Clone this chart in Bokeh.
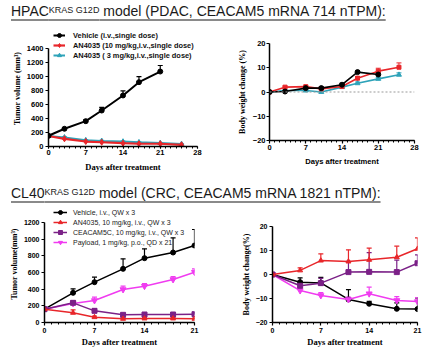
from bokeh.plotting import figure
from bokeh.models import (Range1d, FixedTicker, Legend, LegendItem, ColumnDataSource,
                          Whisker, TeeHead, Span, Div)
from bokeh.layouts import column, row
from bokeh.embed import file_html
from bokeh.resources import INLINE

# ---------------- data ----------------
# HPAC tumor volume
hpac_days_veh = [0, 3, 7, 10, 14, 17, 21]
hpac_days_trt = [0, 3, 7, 10, 14, 17, 21, 25]
hpac_tv_veh = [153, 253, 362, 514, 729, 919, 1071]
hpac_tv_veh_err = [10, 15, 20, 45, 65, 80, 86]
hpac_tv_an10 = [150, 110, 71, 61, 47, 39, 39, 24]
hpac_tv_an10_err = [10, 10, 8, 8, 6, 6, 6, 5]
hpac_tv_an3 = [150, 130, 90, 80, 70, 60, 50, 35]
hpac_tv_an3_err = [10, 10, 8, 8, 6, 6, 6, 5]
# HPAC body weight
hpac_bw_veh = [0, 0.2, 1.6, 1.6, 3.0, 8.2, 7.2]
hpac_bw_veh_err = [0.3, 0.4, 0.5, 0.5, 0.6, 0.6, 1.0]
hpac_bw_an10 = [0, 2.0, 2.2, 1.3, 2.3, 5.7, 8.6, 10.2]
hpac_bw_an10_err = [0.3, 0.4, 0.5, 0.5, 0.5, 0.7, 1.2, 1.8]
hpac_bw_an3 = [0, 0.6, 0.6, 0.0, 2.0, 3.6, 5.4, 7.1]
hpac_bw_an3_err = [0.3, 0.3, 0.3, 0.3, 0.4, 0.5, 0.6, 0.8]
hpac_labels = ["Vehicle (i.v.,single dose)",
               "AN4035 (10 mg/kg,i.v.,single dose)",
               "AN4035 ( 3 mg/kg,i.v.,single dose)"]

# CL40 tumor volume
cl40_days = [0, 4, 7, 11, 14, 18, 21]
cl40_tv_veh = [160, 356, 484, 644, 772, 840, 924]
cl40_tv_veh_err = [10, 48, 60, 120, 112, 176, 192]
cl40_tv_an = [160, 116, 64, 44, 48, 48, 44]
cl40_tv_an_err = [10, 36, 12, 10, 10, 10, 10]
cl40_tv_cea = [160, 236, 140, 92, 96, 96, 100]
cl40_tv_cea_err = [10, 25, 25, 15, 15, 15, 20]
cl40_tv_pay = [160, 228, 264, 396, 436, 516, 604]
cl40_tv_pay_err = [10, 20, 40, 40, 30, 35, 40]
# CL40 body weight
cl40_bw_veh = [0, -3.2, -3.5, -10.4, -12.2, -14.3, -14.4]
cl40_bw_veh_err = [0, 1.8, 2.3, 4.1, 1.0, 2.5, 4.7]
cl40_bw_an = [0, 1.7, 5.8, 5.4, 6.1, 7.2, 10.7]
cl40_bw_an_err = [0, 1.1, 2.8, 4.9, 4.9, 4.6, 4.6]
cl40_bw_cea = [0, -4.7, -3.6, 1.0, 1.1, 1.0, 4.7]
cl40_bw_cea_err = [0, 2.0, 2.0, 4.5, 8.0, 5.0, 3.5]
cl40_bw_pay = [0, -6.7, -8.75, -10.4, -8.0, -10.8, -11.25]
cl40_bw_pay_err = [0, 1.0, 1.2, 1.0, 2.7, 1.6, 1.6]
cl40_labels = ["Vehicle, i.v., QW x 3",
               "AN4035, 10 mg/kg, i.v., QW x 3",
               "CEACAM5C, 10 mg/kg, i.v., QW x 3",
               "Payload, 1 mg/kg, p.o., QD x 21"]

x_ticks_top = [0, 7, 14, 21, 28]
x_ticks_bot = [0, 7, 14, 21]
tv_ticks_top = [0, 200, 400, 600, 800, 1000, 1200, 1400]
tv_ticks_bot = [0, 200, 400, 600, 800, 1000, 1200]
bw_ticks = [-20, -10, 0, 10, 20]

# ---------------- style ----------------
SANS = "Liberation Sans"
SERIF = "Liberation Serif"
BLACK = "#000000"
RED = "#e8262a"
TEAL = "#2ea3b9"
PURPLE = "#7b2187"
MAGENTA = "#f03cf0"


def make_fig(xmax, xticks, xminor, yr, ybounds, yticks, borders, xlabel, ylabel,
             xl_font, yl_font, xl_size, yl_size, tick_size,
             x_tick_out, x_std, x_lab_std, y_std, y_lab_std):
    l, r, t, b = borders
    p = figure(width=215, height=145, output_backend="svg", toolbar_location=None,
               x_range=Range1d(0, xmax), y_range=Range1d(*yr),
               min_border_left=l, min_border_right=r, min_border_top=t,
               min_border_bottom=b, margin=(0, 0, 0, 0))
    p.outline_line_color = None
    p.grid.visible = False
    p.xaxis.ticker = FixedTicker(ticks=xticks, minor_ticks=xminor)
    p.yaxis.ticker = FixedTicker(ticks=yticks)
    p.yaxis.bounds = ybounds
    for ax in (p.xaxis[0], p.yaxis[0]):
        ax.axis_line_width = 1.5
        ax.axis_line_color = BLACK
        ax.major_tick_line_color = BLACK
        ax.minor_tick_line_color = BLACK
        ax.major_tick_line_width = 1.2
        ax.major_tick_in = 0
        ax.minor_tick_in = 0
        ax.minor_tick_out = 2
        ax.major_label_text_font = SANS
        ax.major_label_text_font_style = "bold"
        ax.major_label_text_font_size = tick_size
        ax.major_label_text_color = BLACK
        ax.axis_label_text_font_style = "bold"
        ax.axis_label_text_color = BLACK
    p.xaxis.major_tick_out = x_tick_out
    p.yaxis.major_tick_out = 3
    p.yaxis.minor_tick_line_color = None
    p.xaxis.axis_label = xlabel
    p.yaxis.axis_label = ylabel
    p.xaxis.axis_label_text_font = xl_font
    p.yaxis.axis_label_text_font = yl_font
    p.xaxis.axis_label_text_font_size = xl_size
    p.yaxis.axis_label_text_font_size = yl_size
    p.xaxis.major_label_standoff = x_std
    p.xaxis.axis_label_standoff = x_lab_std
    p.yaxis.major_label_standoff = y_std
    p.yaxis.axis_label_standoff = y_lab_std
    return p


def add_series(p, x, y, err, color, marker, size, lw, elw, head=5):
    src = ColumnDataSource(dict(x=x, y=y, up=[a + e for a, e in zip(y, err)]))
    w = Whisker(source=src, base="x", upper="up", lower="y", dimension="height",
                line_color=color, line_width=elw,
                upper_head=TeeHead(size=head, line_color=color, line_width=elw),
                lower_head=None)
    p.add_layout(w)
    ln = p.line("x", "y", source=src, line_color=color, line_width=lw)
    sc = p.scatter("x", "y", source=src, marker=marker, size=size,
                   fill_color=color, line_color=color)
    return [ln, sc]


minor_top = list(range(0, 29))
minor_bot = list(range(0, 22))

# ---- panel A: HPAC tumor volume (frame extended up to figure top; axis bounded to 0-1400)
pA = make_fig(28, x_ticks_top, minor_top, (0, 1657), (0, 1400), tv_ticks_top, (48, 18, 0, 29),
              "Days after treatment", "Tumor volume (mm³)", SERIF, SERIF,
              "8.5px", "8px", "7.5px", 2, 1, 4, 2, 2)
rA1 = add_series(pA, hpac_days_trt, hpac_tv_an3, hpac_tv_an3_err, TEAL, "triangle", 5, 2, 1)
rA2 = add_series(pA, hpac_days_trt, hpac_tv_an10, hpac_tv_an10_err, RED, "diamond", 6, 2.2, 1)
rA0 = add_series(pA, hpac_days_veh, hpac_tv_veh, hpac_tv_veh_err, BLACK, "circle", 5, 2, 1.2)
legA = Legend(items=[LegendItem(label=hpac_labels[0], renderers=rA0),
                     LegendItem(label=hpac_labels[1], renderers=rA2),
                     LegendItem(label=hpac_labels[2], renderers=rA1)],
              location=(5, 86), padding=0, margin=0, spacing=0,
              glyph_width=12, glyph_height=10, label_height=10, label_standoff=8,
              label_text_font=SANS, label_text_font_style="bold",
              label_text_font_size="7.4px", label_text_color="#111111",
              border_line_color=None, background_fill_alpha=0)
pA.add_layout(legA)

# ---- panel B: HPAC body weight
pB = make_fig(28, x_ticks_top, minor_top, (-20, 20), (-20, 20), bw_ticks, (54, 16, 13, 35),
              "Days after treatment", "Body weight change (%)", SANS, SERIF,
              "7.6px", "8px", "7.5px", 3, 1, 4, 1, 3)
pB.add_layout(Span(location=0, dimension="width", line_color="#9a9a9a",
                   line_dash="2 2", line_width=1.2))
add_series(pB, hpac_days_trt, hpac_bw_an3, hpac_bw_an3_err, TEAL, "triangle", 5, 1.6, 1)
add_series(pB, hpac_days_trt, hpac_bw_an10, hpac_bw_an10_err, RED, "square", 4, 1.6, 1)
add_series(pB, hpac_days_veh, hpac_bw_veh, hpac_bw_veh_err, BLACK, "circle", 5, 1.6, 1)

# ---- panel C: CL40 tumor volume (frame extended up to figure top; axis bounded to 0-1200)
pC = make_fig(21, x_ticks_bot, minor_bot, (0, 1404), (0, 1200), tv_ticks_bot, (44, 21, 0, 28),
              "Days after treatment", "Tumor volume(mm³)", SERIF, SERIF,
              "8.5px", "8px", "7px", 3, 2, 1, 2, 2)
rC0 = add_series(pC, cl40_days, cl40_tv_veh, cl40_tv_veh_err, BLACK, "circle", 5, 1.5, 1.2)
rC3 = add_series(pC, cl40_days, cl40_tv_pay, cl40_tv_pay_err, MAGENTA, "inverted_triangle", 6, 1.5, 1.2)
rC2 = add_series(pC, cl40_days, cl40_tv_cea, cl40_tv_cea_err, PURPLE, "square", 5, 1.5, 1.2)
rC1 = add_series(pC, cl40_days, cl40_tv_an, cl40_tv_an_err, RED, "triangle", 5, 1.5, 1.2)
legC = Legend(items=[LegendItem(label=cl40_labels[0], renderers=rC0),
                     LegendItem(label=cl40_labels[1], renderers=rC1),
                     LegendItem(label=cl40_labels[2], renderers=rC2),
                     LegendItem(label=cl40_labels[3], renderers=rC3)],
              location=(9, 75), padding=0, margin=0, spacing=0,
              glyph_width=14, glyph_height=10, label_height=10, label_standoff=6,
              label_text_font=SANS, label_text_font_size="7px",
              label_text_color="#222222",
              border_line_color=None, background_fill_alpha=0)
pC.add_layout(legC)

# ---- panel D: CL40 body weight
pD = make_fig(21, x_ticks_bot, minor_bot, (-20, 20), (-20, 20), bw_ticks, (57, 13, 21, 28),
              "Days after treatment", "Body weight change(%)", SERIF, SERIF,
              "8.5px", "8px", "7px", 3, 2, 1, 2, 2)
add_series(pD, cl40_days, cl40_bw_veh, cl40_bw_veh_err, BLACK, "circle", 5, 1.5, 1.2)
add_series(pD, cl40_days, cl40_bw_pay, cl40_bw_pay_err, MAGENTA, "inverted_triangle", 6, 1.5, 1.2)
add_series(pD, cl40_days, cl40_bw_cea, cl40_bw_cea_err, PURPLE, "square", 5, 1.5, 1.2)
add_series(pD, cl40_days, cl40_bw_an, cl40_bw_an_err, RED, "triangle", 5, 1.5, 1.2)


# ---- titles
def title_div(main, model_text, pad_top):
    html = (
        f'<div style="font-family:\'Liberation Sans\',Arial,sans-serif;font-size:14px;'
        f'line-height:16px;color:#1a1a1a;padding:{pad_top}px 0 0 11px;white-space:nowrap;">'
        f'<span style="text-decoration:underline;text-decoration-color:#8a8a8a;'
        f'text-decoration-thickness:2px;text-underline-offset:3px;">{main}'
        f'<span style="font-size:9px;vertical-align:3px;line-height:0;">KRAS G12D</span>'
        f' {model_text}</span></div>'
    )
    return Div(text=html, width=430, height=30, margin=(0, 0, 0, 0))


d1 = title_div("HPAC", "model (PDAC, CEACAM5 mRNA 714 nTPM):", 3)
d2 = title_div("CL40", "model (CRC, CEACAM5 mRNA 1821 nTPM):", 10)


def box(p):
    # wrap each plot on its own so that plots in one row keep their own borders
    return column(p, width=215, height=145, margin=(0, 0, 0, 0))


layout = column(d1, row(box(pA), box(pB), spacing=0), d2,
                row(box(pC), box(pD), spacing=0), spacing=0)

open("out.html", "w").write(file_html(layout, INLINE, title="chart"))
